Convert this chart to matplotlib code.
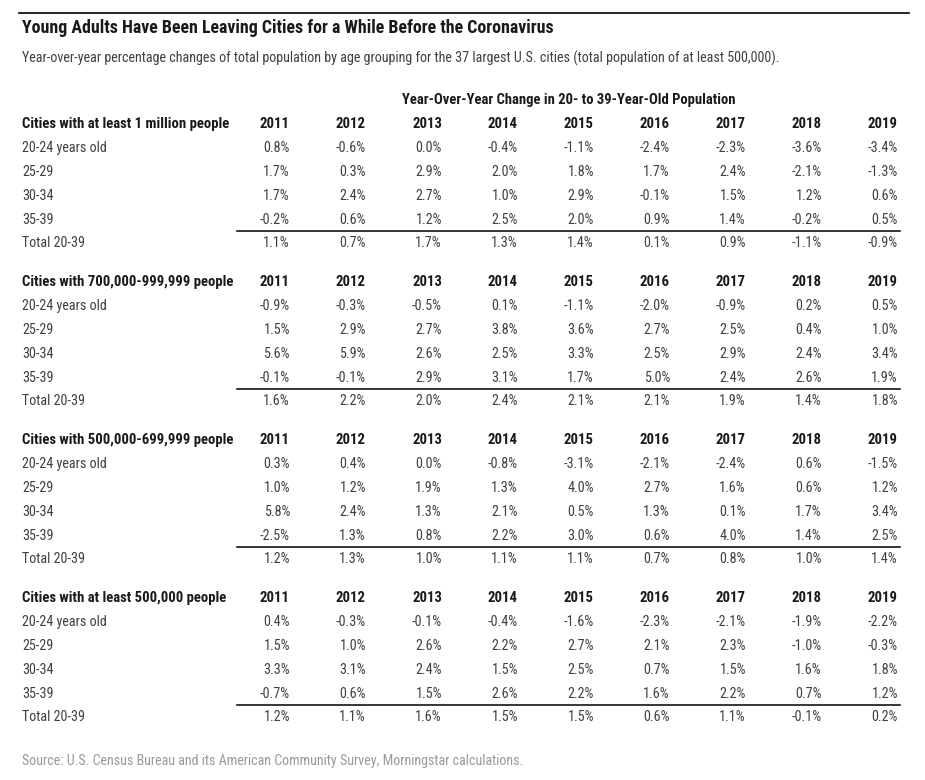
import matplotlib.pyplot as plt
from matplotlib import font_manager

# condensed face if one is installed, else plain DejaVu squeezed to the reference widths
names = {f.name for f in font_manager.fontManager.ttflist}
stretch = "normal"
if "Liberation Sans Narrow" in names:
    family = "Liberation Sans Narrow"
elif "Roboto Condensed" in names:
    family = "Roboto Condensed"
elif any(f.name == "DejaVu Sans" and f.stretch == "condensed" for f in font_manager.fontManager.ttflist):
    family = "DejaVu Sans"
    stretch = "condensed"
else:
    family = "DejaVu Sans"
plt.rcParams['font.family'] = [family, 'DejaVu Sans']
plt.rcParams['font.stretch'] = stretch

years = ["2011", "2012", "2013", "2014", "2015", "2016", "2017", "2018", "2019"]
rows = ["20-24 years old", "25-29", "30-34", "35-39", "Total 20-39"]
groups = ["Cities with at least 1 million people",
          "Cities with 700,000-999,999 people",
          "Cities with 500,000-699,999 people",
          "Cities with at least 500,000 people"]

million = [
    [0.8, -0.6, 0.0, -0.4, -1.1, -2.4, -2.3, -3.6, -3.4],
    [1.7, 0.3, 2.9, 2.0, 1.8, 1.7, 2.4, -2.1, -1.3],
    [1.7, 2.4, 2.7, 1.0, 2.9, -0.1, 1.5, 1.2, 0.6],
    [-0.2, 0.6, 1.2, 2.5, 2.0, 0.9, 1.4, -0.2, 0.5],
    [1.1, 0.7, 1.7, 1.3, 1.4, 0.1, 0.9, -1.1, -0.9],
]
k700 = [
    [-0.9, -0.3, -0.5, 0.1, -1.1, -2.0, -0.9, 0.2, 0.5],
    [1.5, 2.9, 2.7, 3.8, 3.6, 2.7, 2.5, 0.4, 1.0],
    [5.6, 5.9, 2.6, 2.5, 3.3, 2.5, 2.9, 2.4, 3.4],
    [-0.1, -0.1, 2.9, 3.1, 1.7, 5.0, 2.4, 2.6, 1.9],
    [1.6, 2.2, 2.0, 2.4, 2.1, 2.1, 1.9, 1.4, 1.8],
]
k500 = [
    [0.3, 0.4, 0.0, -0.8, -3.1, -2.1, -2.4, 0.6, -1.5],
    [1.0, 1.2, 1.9, 1.3, 4.0, 2.7, 1.6, 0.6, 1.2],
    [5.8, 2.4, 1.3, 2.1, 0.5, 1.3, 0.1, 1.7, 3.4],
    [-2.5, 1.3, 0.8, 2.2, 3.0, 0.6, 4.0, 1.4, 2.5],
    [1.2, 1.3, 1.0, 1.1, 1.1, 0.7, 0.8, 1.0, 1.4],
]
all500 = [
    [0.4, -0.3, -0.1, -0.4, -1.6, -2.3, -2.1, -1.9, -2.2],
    [1.5, 1.0, 2.6, 2.2, 2.7, 2.1, 2.3, -1.0, -0.3],
    [3.3, 3.1, 2.4, 1.5, 2.5, 0.7, 1.5, 1.6, 1.8],
    [-0.7, 0.6, 1.5, 2.6, 2.2, 1.6, 2.2, 0.7, 1.2],
    [1.2, 1.1, 1.6, 1.5, 1.5, 0.6, 1.1, -0.1, 0.2],
]
tables = [million, k700, k500, all500]

fig = plt.figure(figsize=(9.25, 7.8), dpi=100)
ax = fig.add_axes([0, 0, 1, 1])
ax.set_xlim(0, 925)
ax.set_ylim(780, 0)
ax.axis("off")
renderer = fig.canvas.get_renderer()


def fit(t, width):
    # scale the font so the text spans the same pixel width as in the reference
    w = t.get_window_extent(renderer).width
    t.set_fontsize(t.get_fontsize() * width / w)
    return t.get_fontsize()


dark = "#1a1a1a"
body = "#404040"

ax.plot([19, 909], [13, 13], color="black", lw=1.2)
t = ax.text(22, 28, "Young Adults Have Been Leaving Cities for a While Before the Coronavirus",
            fontsize=12.5, fontweight="bold", color=dark, va="center")
fit(t, 533)
t = ax.text(22, 58, "Year-over-year percentage changes of total population by age grouping for the 37 largest U.S. cities (total population of at least 500,000).",
            fontsize=8.6, color=body, va="center")
fit(t, 758)
t = ax.text(569, 100, "Year-Over-Year Change in 20- to 39-Year-Old Population",
            fontsize=10, fontweight="bold", color=dark, va="center", ha="center")
fit(t, 332)

# body size taken from the widest group label
probe = ax.text(22, 124, groups[0], fontsize=10, fontweight="bold", color=dark, va="center")
bold_size = fit(probe, 208)
probe.remove()
probe = ax.text(290, 148, "-0.6%", fontsize=10, color=body, va="center")
body_size = fit(probe, 30)
probe.remove()

col_x = [290 + 76 * i for i in range(len(years))]

for g, (name, tab) in enumerate(zip(groups, tables)):
    y0 = 124 + 158 * g
    ax.text(22, y0, name, fontsize=bold_size, fontweight="bold", color=dark, va="center")
    for x, yr in zip(col_x, years):
        ax.text(x, y0, yr, fontsize=bold_size, fontweight="bold", color=dark, va="center", ha="right")
    for r, label in enumerate(rows):
        y = y0 + 24 * (r + 1) - (1 if r == 4 else 0)
        ax.text(22, y, label, fontsize=body_size, color=body, va="center")
        for x, v in zip(col_x, tab[r]):
            ax.text(x, y, f"{v:.1f}%", fontsize=body_size, color=body, va="center", ha="right")
    ax.plot([237, 900], [y0 + 107, y0 + 107], color="black", lw=1.1)

t = ax.text(22, 761, "Source: U.S. Census Bureau and its American Community Survey, Morningstar calculations.",
            fontsize=8.6, color="#9a9a9a", va="center")
fit(t, 502)

fig.savefig("out.png", dpi=100)
